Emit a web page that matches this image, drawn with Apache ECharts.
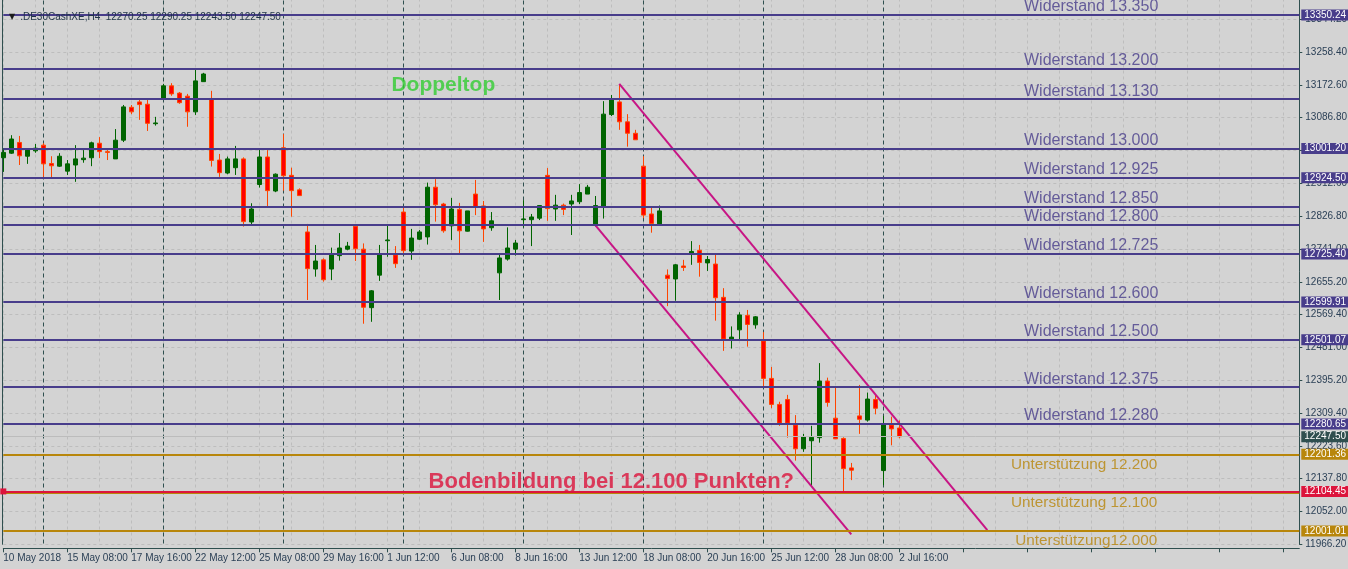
<!DOCTYPE html>
<html>
<head>
<meta charset="utf-8">
<script src="https://cdn.jsdelivr.net/npm/echarts@6/dist/echarts.min.js"></script>
<style>
html,body{margin:0;padding:0;background:#d3d3d3;}
#chart{width:1348px;height:569px;}
</style>
</head>
<body>
<div id="chart"></div>
<script>
// ---- DATA ----
const symbolTitle = '.DE30CashXE,H4  12270.25 12290.25 12243.50 12247.50';
const opens  = [12977,12989,13017,12981,12995,13010,12962,12955,12942,12958,12972,12977,13015,12993,12974,13023,13109,13123,13117,13066,13131,13165,13146,13138,13097,13176,13132,12971,12937,12951,12974,12809,12907,12979,12890,13003,12931,12893,12783,12686,12710,12686,12721,12738,12798,12738,12585,12670,12760,12723,12835,12733,12764,12770,12900,12856,12799,12842,12785,12882,12851,12794,12676,12712,12738,12815,12815,12819,12931,12843,12853,12856,12862,12882,12802,12849,13090,13123,13071,13041,12955,12830,12804,12670,12660,12694,12728,12735,12702,12699,12612,12503,12527,12565,12540,12498,12400,12332,12345,12278,12216,12237,12245,12393,12296,12243,12166,12302,12291,12345,12159,12278,12270.25];
const highs  = [13002,13036,13034,13002,13013,13015,12981,12989,12971,13010,12997,13019,13031,13002,13052,13115,13115,13130,13128,13084,13170,13172,13149,13144,13211,13199,13152,12987,12980,13008,12978,12858,13002,12997,12936,13039,12951,12897,12804,12749,12714,12742,12780,12757,12801,12753,12631,12749,12801,12746,12849,12791,12788,12912,12921,12859,12872,12859,12838,12919,12864,12835,12723,12795,12762,12866,12830,12853,12950,12880,12857,12880,12908,12906,12877,13125,13141,13170,13091,13050,12981,12846,12852,12685,12699,12710,12759,12749,12720,12723,12636,12536,12573,12579,12563,12521,12430,12339,12357,12304,12255,12276,12440,12402,12376,12246,12179,12383,12363,12357,12302,12300,12290.25];
const lows   = [12940,12987,12958,12961,12990,12927,12926,12953,12932,12914,12964,12955,12976,12971,12974,13018,13091,13076,13047,13061,13128,13139,13118,13058,13089,13176,12954,12927,12934,12932,12797,12799,12899,12849,12887,12891,12823,12878,12605,12666,12653,12657,12708,12735,12707,12543,12548,12655,12718,12689,12727,12710,12762,12750,12810,12781,12762,12727,12784,12827,12757,12786,12605,12708,12721,12795,12746,12814,12812,12812,12827,12775,12856,12882,12797,12818,13086,13050,13006,13024,12819,12781,12804,12589,12603,12681,12697,12666,12681,12551,12472,12478,12503,12483,12530,12378,12322,12276,12245,12185,12208,12117,12232,12326,12242,12104,12134,12255,12287,12306,12121,12225,12243.5];
const closes = [12991,13026,12982,12997,13002,12961,12956,12981,12961,12974,12976,13016,12993,12991,13023,13110,13097,13116,13067,13068,13165,13144,13121,13097,13178,13196,12970,12938,12974,12974,12810,12843,12979,12891,12934,12930,12891,12878,12687,12707,12658,12723,12741,12746,12739,12586,12629,12723,12762,12700,12734,12767,12783,12900,12854,12786,12843,12786,12838,12849,12791,12812,12715,12741,12754,12817,12822,12852,12844,12853,12842,12864,12886,12900,12852,13091,13131,13071,13041,13024,12827,12805,12838,12661,12697,12690,12732,12703,12711,12611,12503,12508,12566,12541,12561,12400,12332,12283,12283,12216,12247,12246,12393,12337,12242,12164,12160,12293,12346,12322,12280,12268,12247.5];
const totalSlots = 163;                         // bars + empty space to the right
const dateLabels = ['10 May 2018','15 May 08:00','17 May 16:00','22 May 12:00','25 May 08:00','29 May 16:00','1 Jun 12:00','6 Jun 08:00','8 Jun 16:00','13 Jun 12:00','18 Jun 08:00','20 Jun 16:00','25 Jun 12:00','28 Jun 08:00','2 Jul 16:00'];
const weekSeparators = [5,20,35,50,65,80,95,110];
const yTickMin = 11966.2, yTickStep = 85.8, yTickMax = 13424.8;
const yTickLabels = ['11966.20','12052.00','12137.80','12223.60','12309.40','12395.20','12481.00','12569.40','12655.20','12741.00','12826.80','12912.60','12998.40','13086.80','13172.60','13258.40','13344.20','13430.00'];
const resistanceLevels = [13350.24,13209,13130,13001.20,12924.50,12850,12801,12725.40,12599.91,12501.07,12377,12280.65];
const resistanceBoxed  = [true,false,false,true,true,false,false,true,true,true,false,true];
const resistanceTexts  = ['Widerstand 13.350','Widerstand 13.200','Widerstand 13.130','Widerstand 13.000','Widerstand 12.925','Widerstand 12.850','Widerstand 12.800','Widerstand 12.725','Widerstand 12.600','Widerstand 12.500','Widerstand 12.375','Widerstand 12.280'];
const supportLevels = [12201.36,12100,12001.01];
const supportBoxed  = [true,false,true];
const supportTexts  = ['Unterstützung 12.200','Unterstützung 12.100','Unterstützung12.000'];
const bottomLevel = 12104.45;
const bidPrice = 12247.50;
const channelUpper = [[77,13170],[123,12003]];
const channelLower = [[74,12801],[106,11992]];
const textIndex = 144;
const doppeltop = {idx:55, price:13167, text:'Doppeltop'};
const boden = {idx:76, price:12129, text:'Bodenbildung bei 12.100 Punkten?'};

// ---- BUILD ----
const categories = Array.from({length: totalSlots}, (_, i) => String(i));
const candleData = opens.map((o, i) => [o, closes[i], lows[i], highs[i]]);

const PURPLE = '#483D8B', GOLD = '#B8860B', RED = '#DC143C', AXIS = '#2F4F4F';
const FONT = "'Liberation Sans',Arial,sans-serif";

function boxLabel(bg, show) {
  return {
    show: show, position: 'end', distance: 2,
    formatter: p => Number(p.value).toFixed(2),
    color: '#ffffff', backgroundColor: bg, padding: [1, 2, 0, 3],
    fontSize: 10, fontFamily: FONT
  };
}
const levelLines = [];
resistanceLevels.forEach((v, i) => levelLines.push({
  yAxis: v, lineStyle: {color: PURPLE, width: 2, type: 'solid'}, label: boxLabel(PURPLE, resistanceBoxed[i])
}));
supportLevels.forEach((v, i) => levelLines.push({
  yAxis: v, lineStyle: {color: GOLD, width: 2, type: 'solid'}, label: boxLabel(GOLD, supportBoxed[i])
}));
levelLines.push({yAxis: bottomLevel, symbol: ['emptyRect', 'emptyRect'], symbolSize: 6,
  lineStyle: {color: RED, width: 2, type: 'solid'}, label: boxLabel(RED, true)});
levelLines.push({yAxis: bidPrice, lineStyle: {color: '#bcbcbc', width: 1, type: 'solid'}, label: boxLabel(AXIS, true)});

const textPoints = [];
resistanceLevels.forEach((v, i) => textPoints.push({
  value: [textIndex, v], label: {text0: resistanceTexts[i], color: PURPLE, offset: [3, -8], fontSize: 16}
}));
supportLevels.forEach((v, i) => textPoints.push({
  value: [textIndex, v], label: {text0: supportTexts[i], color: GOLD, offset: [2, 10], fontSize: 15.3}
}));

const annData = textPoints.map(t => ({
  value: t.value, name: t.label.text0,
  label: {show: true, position: 'inside', align: 'right', verticalAlign: 'middle',
    offset: t.label.offset, color: t.label.color, fontSize: t.label.fontSize,
    fontFamily: FONT, formatter: '{b}'}
}));
annData.push({value: [doppeltop.idx, doppeltop.price], name: doppeltop.text,
  label: {show: true, position: 'inside', align: 'center', verticalAlign: 'middle', color: '#32CD32',
    fontSize: 21, fontWeight: 'bold', fontFamily: FONT, formatter: '{b}'}});
annData.push({value: [boden.idx, boden.price], name: boden.text,
  label: {show: true, position: 'inside', align: 'center', verticalAlign: 'middle', color: RED,
    fontSize: 22, fontWeight: 'bold', fontFamily: FONT, formatter: '{b}'}});

const chart = echarts.init(document.getElementById('chart'), null, {renderer: 'canvas'});
chart.setOption({
  backgroundColor: '#d3d3d3',
  animation: false,
  title: {
    text: '{tri|▼} {t|' + symbolTitle + '}', left: 4, top: 3,
    textStyle: {fontWeight: 'normal', rich: {
      tri: {fontSize: 8, color: '#1a1a1a', fontFamily: 'DejaVu Sans', fontWeight: 'normal'},
      t: {fontSize: 10, color: '#1f3347', fontFamily: FONT, fontWeight: 'normal'}
    }}
  },
  grid: {left: 3.3, top: -13.5, width: 1296, height: 557.8, containLabel: false, outerBoundsMode: 'none'},
  xAxis: [{
    type: 'category', data: categories, boundaryGap: false, offset: 4,
    axisLine: {lineStyle: {color: AXIS, width: 1}},
    axisTick: {show: true, interval: (i) => i % 8 === 0, length: 4, lineStyle: {color: AXIS}},
    axisLabel: {interval: (i) => i % 8 === 0, align: 'left', margin: 5, color: '#2a3f55',
      fontSize: 10, fontFamily: FONT, showMinLabel: true, hideOverlap: false,
      formatter: (v, i) => (i % 8 === 0 && dateLabels[i / 8]) ? dateLabels[i / 8] : ''},
    splitLine: {show: true, interval: (i) => i % 4 === 0, lineStyle: {color: '#bdbdbd', type: [3, 3], width: 1}}
  }, {
    type: 'category', data: categories, boundaryGap: false, position: 'bottom',
    axisLine: {show: false}, axisTick: {show: false}, axisLabel: {show: false},
    splitLine: {show: true, interval: (i) => weekSeparators.indexOf(i) >= 0, lineStyle: {color: AXIS, type: [4, 3], width: 1}}
  }],
  yAxis: [{
    type: 'value', position: 'right', min: yTickMin, max: yTickMax, interval: yTickStep,
    axisLine: {show: true, lineStyle: {color: AXIS, width: 1}},
    axisTick: {show: true, length: 3, lineStyle: {color: AXIS}},
    axisLabel: {margin: 6, color: '#2a3f55', fontSize: 10, fontFamily: FONT,
      formatter: (v) => { const k = Math.round((v - yTickMin) / yTickStep); return yTickLabels[k] || ''; }},
    splitLine: {show: true, lineStyle: {color: '#bdbdbd', type: [3, 3], width: 1}}
  }, {
    type: 'value', position: 'left', min: yTickMin, max: yTickMax, offset: 1,
    axisLine: {show: true, lineStyle: {color: AXIS, width: 1}},
    axisTick: {show: false}, axisLabel: {show: false}, splitLine: {show: false}
  }],
  series: [{
    name: 'DE30', type: 'candlestick', data: candleData, barWidth: 5,
    itemStyle: {color: '#006400', color0: '#ff0000', borderColor: '#006400', borderColor0: '#ff4500', borderWidth: 1},
    markLine: {silent: true, symbol: ['none', 'none'], animation: false, data: levelLines}
  }, {
    name: 'channelUpper', type: 'line', data: channelUpper, showSymbol: false, symbol: 'none',
    lineStyle: {color: '#C71585', width: 2}, z: 4, silent: true
  }, {
    name: 'channelLower', type: 'line', data: channelLower, showSymbol: false, symbol: 'none',
    lineStyle: {color: '#C71585', width: 2}, z: 4, silent: true
  }, {
    name: 'notes', type: 'scatter', symbolSize: 0, data: annData, z: 6, silent: true
  }]
});
</script>
</body>
</html>
